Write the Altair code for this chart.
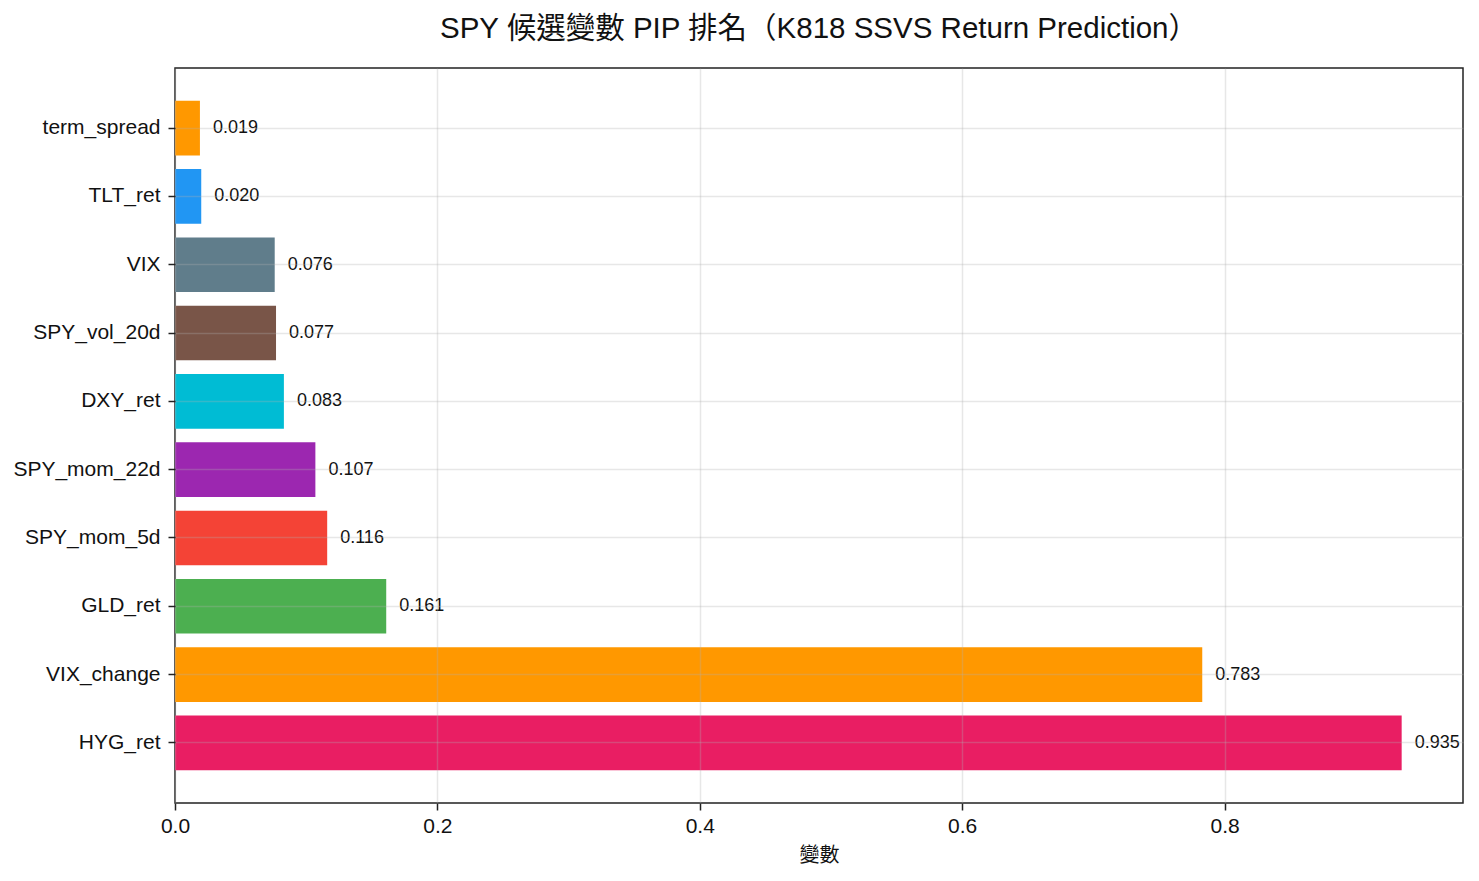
import altair as alt
import pandas as pd

variables = ["term_spread", "TLT_ret", "VIX", "SPY_vol_20d", "DXY_ret",
             "SPY_mom_22d", "SPY_mom_5d", "GLD_ret", "VIX_change", "HYG_ret"]
pip_values = [0.019, 0.020, 0.076, 0.077, 0.083, 0.107, 0.116, 0.161, 0.783, 0.935]
bar_colors = ["#FF9800", "#2196F3", "#607D8B", "#795548", "#00BCD4",
              "#9C27B0", "#F44336", "#4CAF50", "#FF9800", "#E91E63"]
x_ticks = [0.0, 0.2, 0.4, 0.6, 0.8]

df = pd.DataFrame({"variable": variables, "pip": pip_values})

FONT = "Liberation Sans, Noto Sans CJK TC, sans-serif"

y_enc = alt.Y(
    "variable:N",
    sort=variables,
    title=None,
    scale=alt.Scale(paddingInner=0.2, paddingOuter=0.48),
    axis=alt.Axis(
        bandPosition=0.5, grid=True, gridColor="#b0b0b0", gridOpacity=0.3,
        gridWidth=1.5, domain=False, ticks=True, tickSize=7, tickWidth=1.5,
        tickColor="#222222", labelFont=FONT, labelFontSize=21,
        labelColor="#111111", labelPadding=8, zindex=1,
    ),
)
x_enc = alt.X(
    "pip:Q",
    title="變數",
    scale=alt.Scale(domain=[0, 0.935 * 1.05], nice=False, zero=True),
    axis=alt.Axis(
        values=x_ticks, format=".1f", grid=True, gridColor="#b0b0b0",
        gridOpacity=0.3, gridWidth=1.5, domain=False, ticks=True, tickSize=7,
        tickWidth=1.5, tickColor="#222222", labelFont=FONT, labelFontSize=21,
        labelColor="#111111", labelPadding=5, labelFlush=False,
        titleFont=FONT, titleFontSize=20,
        titleFontWeight="normal", titleColor="#111111", titlePadding=9, zindex=1,
    ),
)

bars = alt.Chart(df).mark_bar().encode(
    y=y_enc,
    x=x_enc,
    color=alt.Color("variable:N", scale=alt.Scale(domain=variables, range=bar_colors), legend=None),
)

labels = alt.Chart(df).mark_text(
    align="left", baseline="middle", dx=13, font=FONT, fontSize=18, color="#111111"
).encode(
    y=alt.Y("variable:N", sort=variables),
    x=alt.X("pip:Q"),
    text=alt.Text("pip:Q", format=".3f"),
)

chart = (bars + labels).properties(
    width=1288,
    height=735,
    background="white",
    title=alt.TitleParams(
        "SPY 候選變數 PIP 排名（K818 SSVS Return Prediction）",
        font=FONT, fontSize=29.5, fontWeight="normal", color="#111111",
        anchor="middle", offset=24,
    ),
    autosize=alt.AutoSizeParams(type="none"),
    padding={"left": 175, "top": 68, "right": 16, "bottom": 78},
).configure_view(
    stroke="#222222", strokeWidth=1.5
)

chart.save("out.html", embed_options={"renderer": "svg", "actions": False})
